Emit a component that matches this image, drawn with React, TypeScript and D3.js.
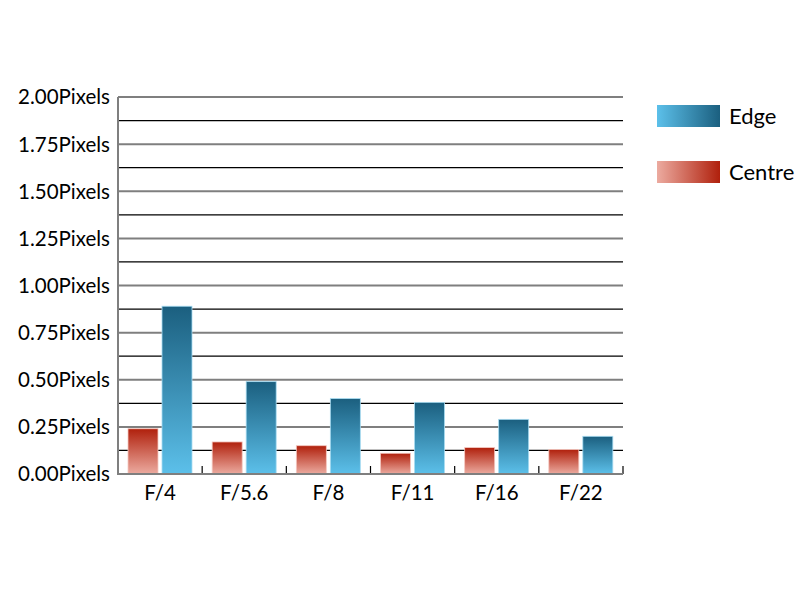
import { useEffect, useRef } from 'react';
import * as d3 from 'd3';

const stops = ['F/4', 'F/5.6', 'F/8', 'F/11', 'F/16', 'F/22'];
const centre = [0.24, 0.17, 0.15, 0.11, 0.14, 0.13];
const edge = [0.89, 0.49, 0.40, 0.38, 0.29, 0.20];
const yTicks = [0, 0.25, 0.5, 0.75, 1, 1.25, 1.5, 1.75, 2];
const minorTicks = [0.125, 0.375, 0.625, 0.875, 1.125, 1.375, 1.625, 1.875];
const seriesNames = ['Edge', 'Centre'];

export default function App() {
  const svgRef = useRef<SVGSVGElement>(null);

  useEffect(() => {
    const svg = d3.select(svgRef.current);
    svg.selectAll('*').remove();

    const left = 118, right = 623, top = 97, bottom = 474;
    const font = 'Lato, "Open Sans", sans-serif';

    const x = d3.scaleBand<string>().domain(stops).range([left, right]);
    const y = d3.scaleLinear().domain([0, 2]).range([bottom, top]);

    const defs = svg.append('defs');
    const grad = (id: string, dark: string, light: string, vertical: boolean) => {
      const g = defs.append('linearGradient').attr('id', id)
        .attr('x1', 0).attr('y1', 0)
        .attr('x2', vertical ? 0 : 1).attr('y2', vertical ? 1 : 0);
      if (vertical) {
        g.append('stop').attr('offset', '0%').attr('stop-color', dark);
        g.append('stop').attr('offset', '100%').attr('stop-color', light);
      } else {
        g.append('stop').attr('offset', '0%').attr('stop-color', light);
        g.append('stop').attr('offset', '100%').attr('stop-color', dark);
      }
    };
    grad('edgeV', '#1b5f7f', '#5cc0ea', true);
    grad('centreV', '#b0200c', '#ecaba0', true);
    grad('edgeH', '#1b5f7f', '#5cc0ea', false);
    grad('centreH', '#b0200c', '#ecaba0', false);

    // minor gridlines
    minorTicks.forEach(v => {
      svg.append('line')
        .attr('x1', left).attr('x2', right)
        .attr('y1', y(v)).attr('y2', y(v))
        .attr('stroke', '#000').attr('stroke-width', 1.2);
    });
    // major gridlines
    yTicks.forEach(v => {
      svg.append('line')
        .attr('x1', left).attr('x2', right)
        .attr('y1', y(v)).attr('y2', y(v))
        .attr('stroke', '#7f7f7f').attr('stroke-width', 2);
      svg.append('text')
        .attr('x', 110).attr('y', y(v)).attr('dy', '0.36em')
        .attr('text-anchor', 'end')
        .attr('font-family', font).attr('font-size', 20.5).attr('fill', '#000')
        .text(`${v.toFixed(2)}Pixels`);
    });

    // left axis
    svg.append('line')
      .attr('x1', left).attr('x2', left)
      .attr('y1', top).attr('y2', bottom + 1)
      .attr('stroke', '#7f7f7f').attr('stroke-width', 2);

    const bw = 30, gap = 4, pad = 10;

    stops.forEach((s, i) => {
      const x0 = x(s)!;
      svg.append('rect')
        .attr('x', x0 + pad).attr('y', y(centre[i]))
        .attr('width', bw).attr('height', bottom - y(centre[i]))
        .attr('fill', 'url(#centreV)')
        .attr('stroke', '#f4c8c0').attr('stroke-width', 0.8);
      svg.append('rect')
        .attr('x', x0 + pad + bw + gap).attr('y', y(edge[i]))
        .attr('width', bw).attr('height', bottom - y(edge[i]))
        .attr('fill', 'url(#edgeV)')
        .attr('stroke', '#a8dcf2').attr('stroke-width', 0.8);
      // category tick
      svg.append('line')
        .attr('x1', x0 + x.bandwidth()).attr('x2', x0 + x.bandwidth())
        .attr('y1', bottom).attr('y2', bottom - 8)
        .attr('stroke', '#000').attr('stroke-width', 1.2);
      svg.append('text')
        .attr('x', x0 + x.bandwidth() / 2).attr('y', 500)
        .attr('text-anchor', 'middle')
        .attr('font-family', font).attr('font-size', 20.5).attr('fill', '#000')
        .text(s);
    });

    // bottom axis
    svg.append('line')
      .attr('x1', left - 1).attr('x2', right)
      .attr('y1', bottom).attr('y2', bottom)
      .attr('stroke', '#7f7f7f').attr('stroke-width', 2);

    // legend
    seriesNames.forEach((name, i) => {
      const ly = 105 + i * 56;
      svg.append('rect')
        .attr('x', 657).attr('y', ly).attr('width', 63).attr('height', 22)
        .attr('fill', i === 0 ? 'url(#edgeH)' : 'url(#centreH)');
      svg.append('text')
        .attr('x', 729).attr('y', ly + 11).attr('dy', '0.36em')
        .attr('font-family', font).attr('font-size', 22).attr('fill', '#000')
        .text(name);
    });
  }, []);

  return (
    <svg
      ref={svgRef}
      width={800}
      height={600}
      style={{ position: 'absolute', left: 0, top: 0, background: '#fff' }}
    />
  );
}
